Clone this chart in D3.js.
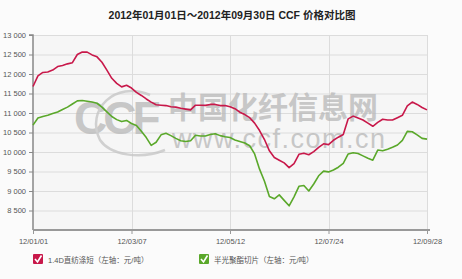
<!DOCTYPE html>
<html><head><meta charset="utf-8">
<script src="https://cdn.jsdelivr.net/npm/d3@7"></script>
<style>
html,body{margin:0;padding:0;background:#fff;}
svg{display:block;font-family:"Liberation Sans",Arial,"Noto Sans CJK SC",sans-serif;}
</style></head><body>
<svg id="c" width="462" height="279"></svg>
<script>
const title = "2012年01月01日～2012年09月30日 CCF 价格对比图";
const seriesNames = ["1.4D直纺涤短（左轴：元/吨）", "半光聚酯切片（左轴：元/吨）"];
const seriesColors = ["#c8184a", "#5aa82a"];
const xTickLabels = ["12/01/01", "12/03/07", "12/05/12", "12/07/24", "12/09/28"];
const xTickIndex = [0, 20, 40, 60, 80];
const yTicks = [8500, 9000, 9500, 10000, 10500, 11000, 11500, 12000, 12500, 13000];
const polyester = [11680,11950,12040,12050,12100,12190,12220,12260,12290,12500,
  12565,12560,12490,12440,12300,12100,11890,11760,11670,11710,
  11640,11530,11450,11360,11280,11210,11200,11190,11160,11150,
  11120,11100,11080,11200,11200,11195,11220,11220,11190,11190,
  11160,11110,11020,10960,10880,10740,10550,10320,10030,9860,
  9790,9720,9600,9700,9940,9970,9930,10010,10120,10210,
  10190,10300,10380,10450,10850,10920,10870,10820,10740,10660,
  10760,10840,10820,10820,10880,10940,11180,11280,11220,11140,11080];
const chips = [10690,10870,10910,10940,10985,11025,11090,11150,11230,11310,
  11320,11300,11280,11250,11150,11030,10910,10830,10780,10810,
  10730,10680,10530,10370,10170,10250,10440,10480,10420,10350,
  10290,10270,10290,10430,10410,10410,10450,10470,10420,10390,
  10370,10310,10270,10230,10160,9950,9560,9250,8860,8800,
  8900,8760,8620,8850,9120,9140,9000,9180,9390,9510,
  9490,9540,9610,9710,9950,9980,9960,9900,9840,9790,
  10050,10030,10070,10120,10180,10300,10530,10520,10440,10350,10330];

const svg = d3.select("#c");
const L = 33, R = 427, T = 35, B = 230;
const x = d3.scaleLinear().domain([0, polyester.length - 1]).range([L, R]);
const y = d3.scaleLinear().domain([8000, 13000]).range([B, T]);

svg.append("rect").attr("width", 462).attr("height", 279).attr("fill", "#fbfbfb");
svg.append("rect").attr("x", L).attr("y", T).attr("width", R - L).attr("height", B - T).attr("fill", "#f6f6f6");

// title
svg.append("text").attr("x", 232).attr("y", 19).attr("text-anchor", "middle")
  .attr("font-size", 10.5).attr("font-weight", "bold").attr("fill", "#222").text(title);

// grid
svg.append("g").selectAll("line").data(yTicks).join("line")
  .attr("x1", L).attr("x2", R).attr("y1", d => y(d) + 0.5).attr("y2", d => y(d) + 0.5)
  .attr("stroke", "#dcdcdc").attr("stroke-width", 1);
svg.append("g").selectAll("line").data(xTickIndex.slice(1)).join("line")
  .attr("x1", d => Math.round(x(d)) + 0.5).attr("x2", d => Math.round(x(d)) + 0.5)
  .attr("y1", T).attr("y2", B).attr("stroke", "#dcdcdc");

// watermark
const wm = svg.append("g").attr("fill", "#b8b8b8").attr("opacity", 0.75);
wm.append("text").attr("x", 74).attr("y", 134).attr("font-size", 46).attr("font-weight", "bold")
  .attr("font-family", "Liberation Sans, Arial, sans-serif").attr("letter-spacing", -4).text("CCF");
wm.append("path").attr("d", "M150,95 C115,80 85,110 100,140 C110,155 140,160 165,150")
  .attr("fill", "none").attr("stroke", "#c4c4c4").attr("stroke-width", 2.5);
wm.append("text").attr("x", 168).attr("y", 118).attr("font-size", 30).attr("font-weight", "bold")
  .attr("font-family", "Noto Sans CJK SC, sans-serif").text("中国化纤信息网");
wm.append("text").attr("x", 172).attr("y", 148).attr("font-size", 27)
  .attr("font-family", "Liberation Sans, Arial, sans-serif").attr("letter-spacing", 1.5).text("www.ccf.com.cn");

// axes
const yAxis = d3.axisLeft(y).tickValues(yTicks).tickSize(4).tickPadding(3)
  .tickFormat(d => d3.format(",")(d).replace(",", " "));
const gy = svg.append("g").attr("transform", `translate(${L},0)`).call(yAxis);
gy.select(".domain").attr("stroke", "#888").attr("stroke-width", 1.5).attr("d", `M-4,${T}H0V${B}`);
gy.selectAll(".tick line").attr("stroke", "#888");
gy.selectAll(".tick text").attr("fill", "#555").attr("font-size", 7.5);

const xAxis = d3.axisBottom(x).tickValues(xTickIndex).tickSize(4).tickPadding(5)
  .tickFormat((d, i) => xTickLabels[i]);
const gx = svg.append("g").attr("transform", `translate(0,${B})`).call(xAxis);
gx.select(".domain").attr("stroke", "#999").attr("stroke-width", 2).attr("d", `M${L},0H${R + 3}`);
gx.selectAll(".tick line").attr("stroke", "#999");
gx.selectAll(".tick text").attr("fill", "#555").attr("font-size", 7.5);

// lines
const line = d3.line().x((d, i) => x(i)).y(d => y(d));
[polyester, chips].forEach((s, k) => {
  svg.append("path").datum(s).attr("d", line).attr("fill", "none")
    .attr("stroke", seriesColors[k]).attr("stroke-width", 1.6).attr("stroke-linejoin", "round");
});

// legend
const legX = [33, 199];
seriesNames.forEach((n, k) => {
  const g = svg.append("g").attr("transform", `translate(${legX[k]},254)`);
  g.append("rect").attr("width", 10).attr("height", 10).attr("rx", 1).attr("fill", seriesColors[k]);
  g.append("path").attr("d", "M2,5 L4.5,8 L8.5,1.5").attr("fill", "none").attr("stroke", "#fff").attr("stroke-width", 1.6);
  g.append("text").attr("x", 15).attr("y", 8.5).attr("font-size", 7.5).attr("fill", "#555").text(n);
});
</script></body></html>
